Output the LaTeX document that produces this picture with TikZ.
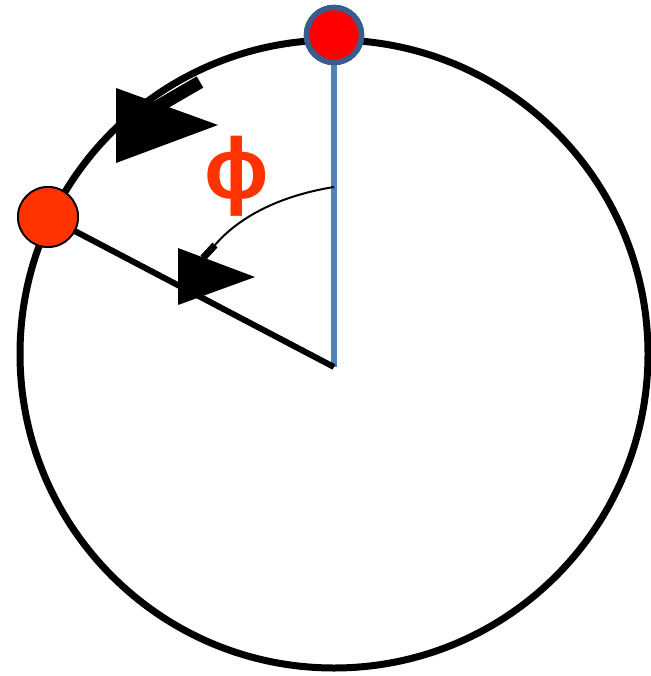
\documentclass[tikz,border=0pt]{standalone}
\usepackage{fontspec}
\usepackage{tikz}
\usetikzlibrary{arrows.meta, positioning, calc}
\newfontfamily\phifont{Liberation Sans}
\definecolor{ringBlue}{HTML}{4F81BD}
\definecolor{ringEdge}{HTML}{385D8A}
\definecolor{dotRed}{HTML}{FF0000}
\definecolor{dotOrange}{HTML}{FF3300}

\begin{document}
\begin{tikzpicture}[
  x=1pt, y=-1pt,
  ring/.style={draw=black, line width=7pt},
  spoke/.style={line width=6pt},
  topdot/.style={circle, draw=ringEdge, fill=dotRed, line width=5.5pt,
                 minimum size=55pt, inner sep=0pt},
  movedot/.style={circle, draw=black, fill=dotOrange, line width=1.8pt,
                  minimum size=60pt, inner sep=0pt},
  head/.style={fill=black, draw=none},
]
\useasboundingbox (0,0) rectangle (650,676);

% Ring
\draw[ring] (334,354) circle (314);

% Spokes
\coordinate (ctr) at (334,367);
\node[topdot] (start) at (334,35) {};
\node[movedot] (moved) at (48,217) {};
\draw[spoke, draw=ringBlue] (start.south) -- (ctr);
\draw[spoke, draw=black] (moved) -- (ctr);
\node[topdot] at (start) {};
\node[movedot] at (moved) {};

% Motion arrow
\coordinate (motA) at (200,82);
\coordinate (motB) at (138,118);
\draw[line width=13pt] (motA) -- (motB);
\fill[head] (116,88) -- (116,163) -- (218,125) -- cycle;

% Angle arrow
\coordinate (angA) at (334,187);
\coordinate (angB) at (215,245);
\coordinate (angC) at (203,258);
\draw[line width=2pt] (angA) .. controls (278,196) and (238,218) .. (angB);
\draw[line width=7pt] (angB) -- (angC);
\fill[head] (178,248) -- (178,305) -- (255,277) -- cycle;

% Label
\node[text=dotOrange, font={\phifont\bfseries\fontsize{86}{86}\selectfont}] (phi) at (237,176) {ϕ};
\end{tikzpicture}
\end{document}
